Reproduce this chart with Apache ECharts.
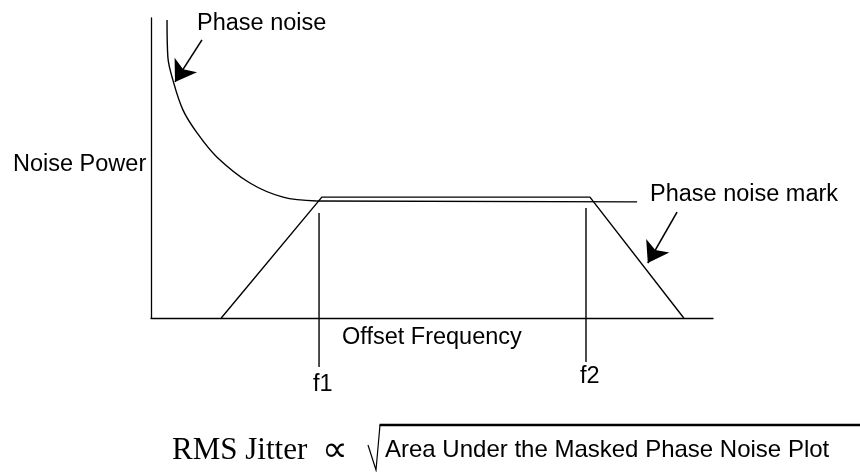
<!DOCTYPE html>
<html>
<head>
<meta charset="utf-8">
<script src="https://cdn.jsdelivr.net/npm/echarts@6/dist/echarts.min.js"></script>
<style>
  html, body { margin: 0; background: #fff; }
  #chart { width: 860px; height: 472px; }
</style>
</head>
<body>
<div id="chart"></div>
<script>
// offset frequency (x) and noise power (y), arbitrary units 0..100
const noiseX = [2.85, 3.0, 3.9, 5.7, 8.2, 11.7, 17.6, 23.5, 29.5];
const noiseY = [99.3, 87, 79.3, 69.3, 61.7, 53.7, 45, 40.3, 39];
const floorX = [29.5, 86.5];
const floorY = [39, 38.7];
const maskX = [12.5, 30.4, 78.1, 94.8];
const maskY = [0, 40.3, 40.3, 0];
const f1X = [29.9, 29.9];
const f1Y = [35, -16.3];
const f2X = [77.4, 77.4];
const f2Y = [36.7, -14.7];
// arrows: [from, to]
const noiseArrow = [[9.07, 92.7], [4.27, 78.7]];
const maskArrow = [[93.6, 35.3], [88.4, 18.3]];

const zip = (xs, ys) => xs.map((x, i) => [x, ys[i]]);
const sans = '"Liberation Sans", Arial, sans-serif';
const serif = '"Liberation Serif", "Times New Roman", serif';

function lineSeries(name, data, width, smooth) {
  return {
    name: name,
    type: 'line',
    data: data,
    smooth: smooth || false,
    symbol: 'none',
    clip: false,
    silent: true,
    lineStyle: { color: '#000', width: width }
  };
}

function label(text, x, y, font) {
  return {
    type: 'text',
    x: x,
    y: y,
    silent: true,
    style: { text: text, font: font, fill: '#000', verticalAlign: 'middle' }
  };
}

const chart = echarts.init(document.getElementById('chart'));
chart.setOption({
  animation: false,
  backgroundColor: '#fff',
  grid: { left: 151, right: 147, top: 18, bottom: 154 },
  xAxis: {
    type: 'value', min: 0, max: 100,
    axisLine: { show: true, lineStyle: { color: '#000', width: 1.3 } },
    axisTick: { show: false }, axisLabel: { show: false }, splitLine: { show: false }
  },
  yAxis: {
    type: 'value', min: 0, max: 100,
    axisLine: { show: true, lineStyle: { color: '#000', width: 1.3 } },
    axisTick: { show: false }, axisLabel: { show: false }, splitLine: { show: false }
  },
  series: [
    lineSeries('Phase noise', zip(noiseX, noiseY), 1.4, 0.35),
    lineSeries('Noise floor', zip(floorX, floorY), 1.4),
    Object.assign(lineSeries('Phase noise mark', zip(maskX, maskY), 1.4), {
      markLine: {
        silent: true,
        symbol: ['none', 'arrow'],
        symbolSize: 20,
        label: { show: false },
        lineStyle: { color: '#000', width: 1.6, type: 'solid' },
        data: [
          [{ coord: noiseArrow[0] }, { coord: noiseArrow[1] }],
          [{ coord: maskArrow[0] }, { coord: maskArrow[1] }]
        ]
      }
    }),
    lineSeries('f1', zip(f1X, f1Y), 1.4),
    lineSeries('f2', zip(f2X, f2Y), 1.4)
  ],
  graphic: [
    label('Phase noise', 197, 23.5, '23.5px ' + sans),
    label('Noise Power', 13, 164.5, '23.5px ' + sans),
    label('Phase noise mark', 650, 194.5, '23.5px ' + sans),
    label('Offset Frequency', 342, 337.5, '23.5px ' + sans),
    label('f1', 313, 385, '23.5px ' + sans),
    label('f2', 580, 377, '23.5px ' + sans),
    // formula: RMS Jitter ∝ √(area)
    label('RMS Jitter', 172, 450.5, '31px ' + serif),
    label('\u221D', 322, 452, '36px ' + serif),
    {
      type: 'polyline', silent: true,
      shape: { points: [[368, 445], [376, 470], [380, 425]] },
      style: { stroke: '#000', lineWidth: 1.2, fill: null }
    },
    {
      type: 'line', silent: true,
      shape: { x1: 379.5, y1: 425, x2: 860, y2: 425 },
      style: { stroke: '#000', lineWidth: 2.6 }
    },
    label('Area Under the Masked Phase Noise Plot', 385, 450, '24px ' + sans)
  ]
});
</script>
</body>
</html>
